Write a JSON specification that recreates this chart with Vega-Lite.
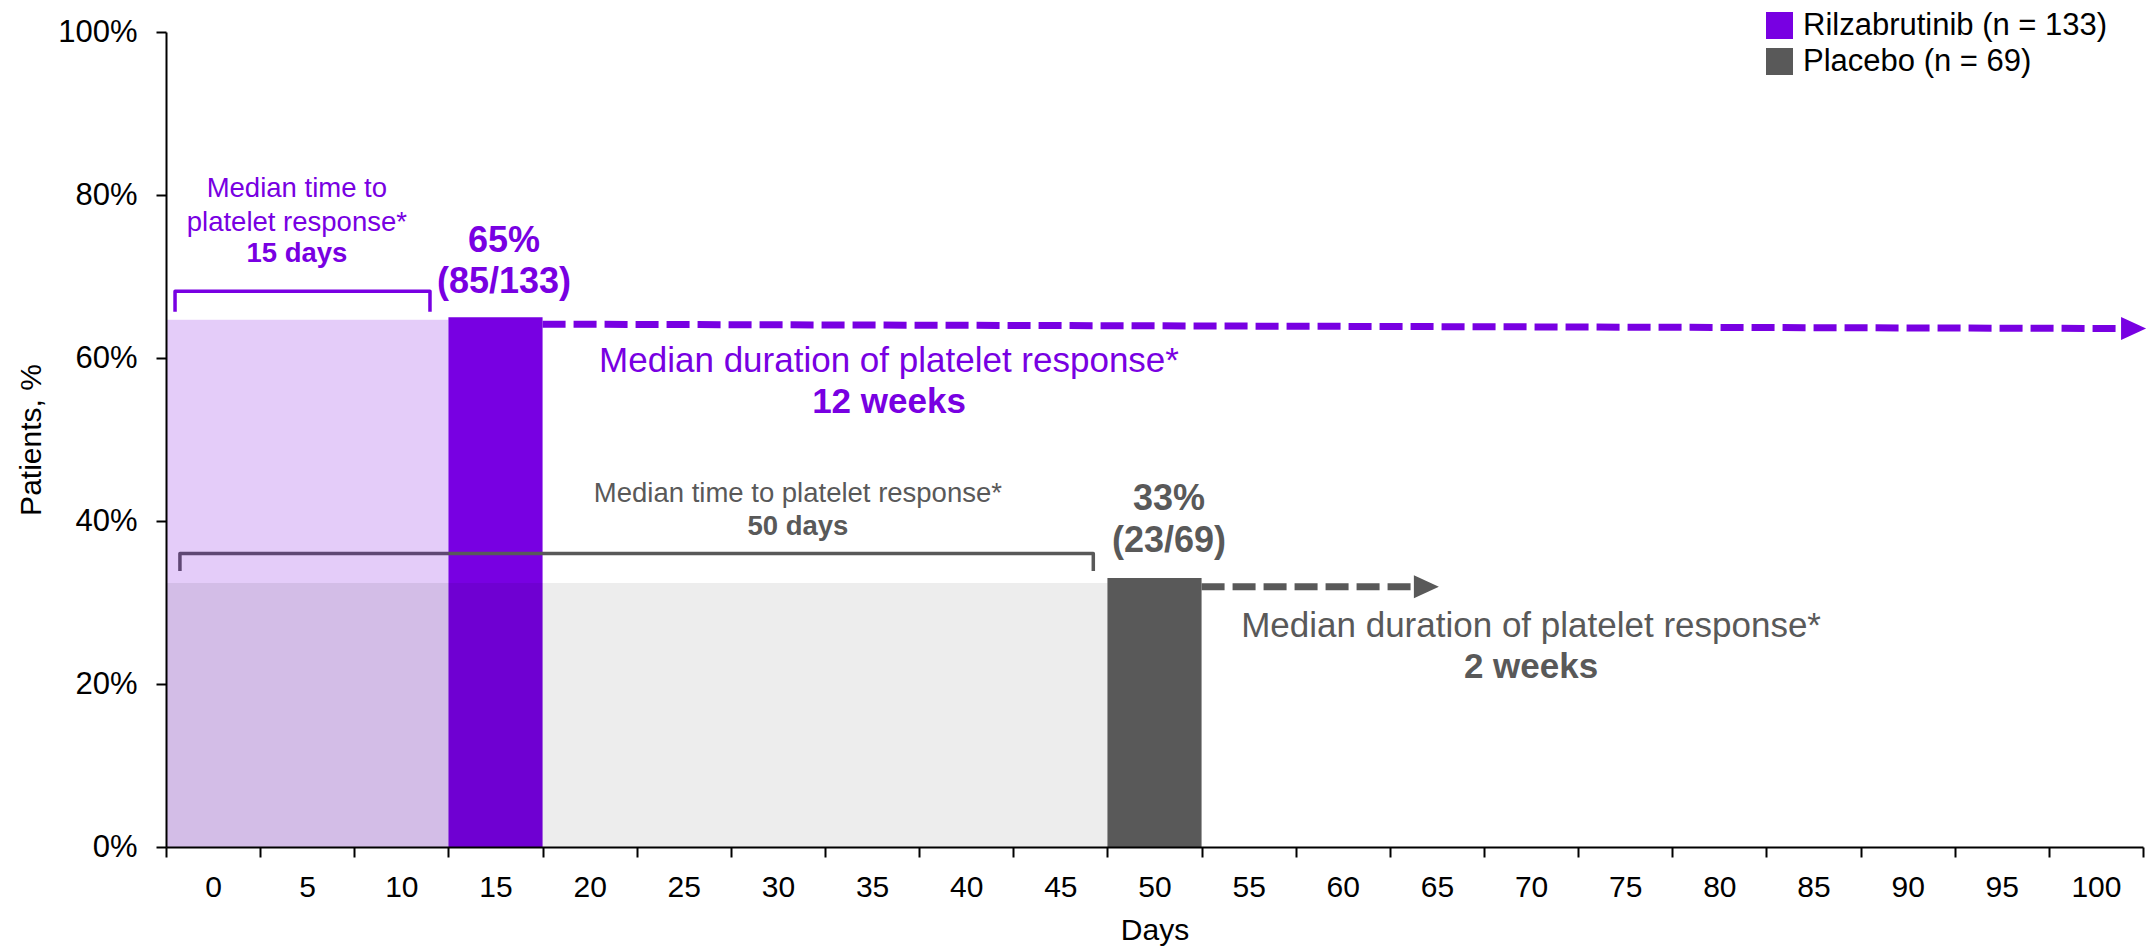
{
  "$schema": "https://vega.github.io/schema/vega-lite/v6.json",
  "width": 1977,
  "height": 815,
  "autosize": {"type": "none"},
  "padding": {"left": 166, "top": 32, "right": 13, "bottom": 100},
  "background": "white",
  "config": {"font": "Liberation Sans", "view": {"stroke": null}},
  "datasets": {
    "responders": [
      {"arm": "Rilzabrutinib (n = 133)", "day": 12.5, "day_end": 17.5, "pct": 65},
      {"arm": "Placebo (n = 69)", "day": 47.5, "day_end": 52.5, "pct": 33}
    ],
    "regions": [
      {"arm": "Rilzabrutinib (n = 133)", "day": -2.5, "day_end": 12.5, "pct": 64.7},
      {"arm": "Placebo (n = 69)", "day": -2.5, "day_end": 47.5, "pct": 32.4}
    ],
    "brackets": [
      {"arm": "Rilzabrutinib (n = 133)", "seq": 1, "day": -2.02, "pct": 65.66},
      {"arm": "Rilzabrutinib (n = 133)", "seq": 2, "day": -2.02, "pct": 68.19},
      {"arm": "Rilzabrutinib (n = 133)", "seq": 3, "day": 11.52, "pct": 68.19},
      {"arm": "Rilzabrutinib (n = 133)", "seq": 4, "day": 11.52, "pct": 65.66},
      {"arm": "Placebo (n = 69)", "seq": 1, "day": -1.76, "pct": 33.85},
      {"arm": "Placebo (n = 69)", "seq": 2, "day": -1.76, "pct": 36.02},
      {"arm": "Placebo (n = 69)", "seq": 3, "day": 46.75, "pct": 36.02},
      {"arm": "Placebo (n = 69)", "seq": 4, "day": 46.75, "pct": 33.85}
    ],
    "durations": [
      {"arm": "Rilzabrutinib (n = 133)", "seq": 1, "day": 17.5, "pct": 64.15},
      {"arm": "Rilzabrutinib (n = 133)", "seq": 2, "day": 101.32, "pct": 63.62},
      {"arm": "Placebo (n = 69)", "seq": 1, "day": 52.5, "pct": 31.93},
      {"arm": "Placebo (n = 69)", "seq": 2, "day": 63.83, "pct": 31.93}
    ],
    "arrowheads": [
      {"arm": "Rilzabrutinib (n = 133)", "day": 102.0, "pct": 63.62},
      {"arm": "Placebo (n = 69)", "day": 64.44, "pct": 31.93}
    ],
    "labels": [
      {"arm": "Rilzabrutinib (n = 133)", "kind": "onset", "day": 4.45, "pct": 79.76, "text": "Median time to"},
      {"arm": "Rilzabrutinib (n = 133)", "kind": "onset", "day": 4.45, "pct": 75.55, "text": "platelet response*"},
      {"arm": "Rilzabrutinib (n = 133)", "kind": "onset_value", "day": 4.45, "pct": 71.79, "text": "15 days"},
      {"arm": "Rilzabrutinib (n = 133)", "kind": "rate", "day": 15.45, "pct": 73.02, "text": "65%"},
      {"arm": "Rilzabrutinib (n = 133)", "kind": "rate", "day": 15.45, "pct": 67.99, "text": "(85/133)"},
      {"arm": "Rilzabrutinib (n = 133)", "kind": "duration", "day": 35.9, "pct": 58.30, "text": "Median duration of platelet response*"},
      {"arm": "Rilzabrutinib (n = 133)", "kind": "duration_value", "day": 35.9, "pct": 53.23, "text": "12 weeks"},
      {"arm": "Placebo (n = 69)", "kind": "onset", "day": 31.06, "pct": 42.35, "text": "Median time to platelet response*"},
      {"arm": "Placebo (n = 69)", "kind": "onset_value", "day": 31.06, "pct": 38.27, "text": "50 days"},
      {"arm": "Placebo (n = 69)", "kind": "rate", "day": 50.77, "pct": 41.33, "text": "33%"},
      {"arm": "Placebo (n = 69)", "kind": "rate", "day": 50.77, "pct": 36.22, "text": "(23/69)"},
      {"arm": "Placebo (n = 69)", "kind": "duration", "day": 70.0, "pct": 25.79, "text": "Median duration of platelet response*"},
      {"arm": "Placebo (n = 69)", "kind": "duration_value", "day": 70.0, "pct": 20.73, "text": "2 weeks"}
    ]
  },
  "encoding": {
    "x": {
      "field": "day",
      "type": "quantitative",
      "scale": {"domain": [-2.5, 102.5], "nice": false, "zero": false},
      "axis": {
        "title": "Days",
        "values": [-2.5, 2.5, 7.5, 12.5, 17.5, 22.5, 27.5, 32.5, 37.5, 42.5, 47.5, 52.5, 57.5, 62.5, 67.5, 72.5, 77.5, 82.5, 87.5, 92.5, 97.5, 102.5],
        "labelExpr": "datum.value < 100 ? format(datum.value + 2.5, 'd') : ''",
        "labelOffset": 47.07,
        "labelFlush": false,
        "labelOverlap": false,
        "labelBound": false,
        "grid": false,
        "zindex": 1,
        "tickSize": 10,
        "tickWidth": 2,
        "tickColor": "#000000",
        "domainColor": "#000000",
        "domainWidth": 2,
        "labelFontSize": 30,
        "labelColor": "#000000",
        "labelBaseline": "alphabetic",
        "labelPadding": 39,
        "titleFontSize": 30,
        "titleFontWeight": "normal",
        "titleColor": "#000000",
        "titleBaseline": "alphabetic",
        "titleY": 92
      }
    },
    "y": {
      "field": "pct",
      "type": "quantitative",
      "scale": {"domain": [0, 100], "nice": false},
      "axis": {
        "title": "Patients, %",
        "values": [0, 20, 40, 60, 80, 100],
        "labelExpr": "datum.value + '%'",
        "labelFlush": false,
        "labelOverlap": false,
        "grid": false,
        "zindex": 1,
        "tickSize": 10,
        "tickWidth": 2,
        "tickColor": "#000000",
        "domainColor": "#000000",
        "domainWidth": 2,
        "labelFontSize": 31,
        "labelColor": "#000000",
        "labelPadding": 19,
        "titleFontSize": 30,
        "titleFontWeight": "normal",
        "titleColor": "#000000",
        "titleBaseline": "alphabetic",
        "titleX": -126
      }
    }
  },
  "layer": [
    {
      "data": {"name": "responders"},
      "mark": {"type": "rect"},
      "encoding": {
        "x2": {"field": "day_end"},
        "y2": {"datum": 0},
        "color": {
          "field": "arm",
          "type": "nominal",
          "scale": {"domain": ["Rilzabrutinib (n = 133)", "Placebo (n = 69)"], "range": ["#7800E2", "#595959"]},
          "legend": {
            "orient": "none",
            "legendX": 1598,
            "legendY": -22,
            "direction": "vertical",
            "title": null,
            "symbolType": "square",
            "symbolSize": 729,
            "symbolStrokeWidth": 0,
            "symbolOpacity": 1,
            "labelFontSize": 31,
            "labelColor": "#000000",
            "labelLimit": 600,
            "labelOffset": 8,
            "rowPadding": 4,
            "padding": 0
          }
        }
      }
    },
    {
      "data": {"name": "brackets"},
      "transform": [{"filter": "datum.arm === 'Placebo (n = 69)'"}],
      "mark": {"type": "line", "strokeWidth": 3.5, "strokeJoin": "round"},
      "encoding": {
        "order": {"field": "seq"},
        "color": {"field": "arm", "type": "nominal", "legend": null}
      }
    },
    {
      "data": {"name": "regions"},
      "transform": [{"filter": "datum.arm === 'Rilzabrutinib (n = 133)'"}],
      "mark": {"type": "rect", "opacity": 0.2},
      "encoding": {
        "x2": {"field": "day_end"},
        "y2": {"datum": 0},
        "color": {"field": "arm", "type": "nominal", "legend": null}
      }
    },
    {
      "data": {"name": "regions"},
      "transform": [{"filter": "datum.arm === 'Placebo (n = 69)'"}],
      "mark": {"type": "rect", "color": "#000000", "opacity": 0.07},
      "encoding": {
        "x2": {"field": "day_end"},
        "y2": {"datum": 0}
      }
    },
    {
      "data": {"name": "brackets"},
      "transform": [{"filter": "datum.arm === 'Rilzabrutinib (n = 133)'"}],
      "mark": {"type": "line", "strokeWidth": 3.5, "strokeJoin": "round"},
      "encoding": {
        "order": {"field": "seq"},
        "color": {"field": "arm", "type": "nominal", "legend": null}
      }
    },
    {
      "data": {"name": "durations"},
      "mark": {"type": "line", "strokeWidth": 7, "strokeDash": [23, 8], "strokeCap": "butt"},
      "encoding": {
        "order": {"field": "seq"},
        "color": {"field": "arm", "type": "nominal", "legend": null}
      }
    },
    {
      "data": {"name": "arrowheads"},
      "mark": {"type": "point", "shape": "M-1,-0.92L1,0L-1,0.92Z", "size": 625, "filled": true, "opacity": 1},
      "encoding": {
        "color": {"field": "arm", "type": "nominal", "legend": null}
      }
    },
    {
      "data": {"name": "labels"},
      "transform": [{"filter": "datum.kind === 'onset'"}],
      "mark": {"type": "text", "fontSize": 27.5, "baseline": "alphabetic", "align": "center"},
      "encoding": {
        "text": {"field": "text"},
        "color": {"field": "arm", "type": "nominal", "legend": null}
      }
    },
    {
      "data": {"name": "labels"},
      "transform": [{"filter": "datum.kind === 'onset_value'"}],
      "mark": {"type": "text", "fontSize": 27.5, "fontWeight": "bold", "baseline": "alphabetic", "align": "center"},
      "encoding": {
        "text": {"field": "text"},
        "color": {"field": "arm", "type": "nominal", "legend": null}
      }
    },
    {
      "data": {"name": "labels"},
      "transform": [{"filter": "datum.kind === 'rate'"}],
      "mark": {"type": "text", "fontSize": 36, "fontWeight": "bold", "baseline": "alphabetic", "align": "center"},
      "encoding": {
        "text": {"field": "text"},
        "color": {"field": "arm", "type": "nominal", "legend": null}
      }
    },
    {
      "data": {"name": "labels"},
      "transform": [{"filter": "datum.kind === 'duration'"}],
      "mark": {"type": "text", "fontSize": 35, "baseline": "alphabetic", "align": "center"},
      "encoding": {
        "text": {"field": "text"},
        "color": {"field": "arm", "type": "nominal", "legend": null}
      }
    },
    {
      "data": {"name": "labels"},
      "transform": [{"filter": "datum.kind === 'duration_value'"}],
      "mark": {"type": "text", "fontSize": 35, "fontWeight": "bold", "baseline": "alphabetic", "align": "center"},
      "encoding": {
        "text": {"field": "text"},
        "color": {"field": "arm", "type": "nominal", "legend": null}
      }
    }
  ]
}
